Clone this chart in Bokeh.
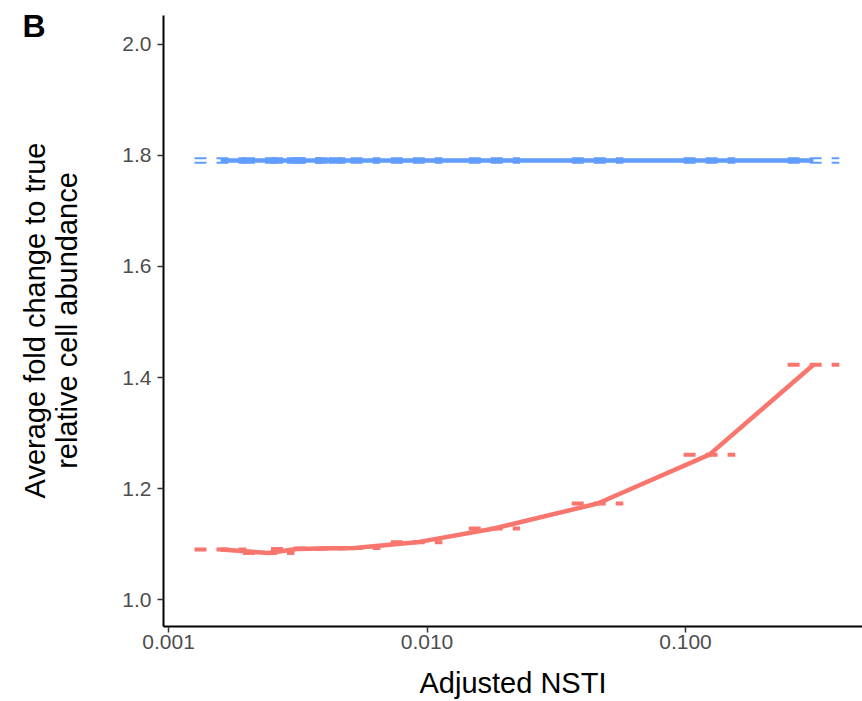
import math
from bokeh.plotting import figure
from bokeh.models import FixedTicker, PrintfTickFormatter, Label, ColumnDataSource
from bokeh.embed import file_html
from bokeh.resources import INLINE

# ---- data ----
bin_nsti = [0.00159, 0.00244, 0.00313, 0.00384, 0.00524, 0.00911, 0.0182, 0.0457, 0.1238, 0.3127]
bin_lo = [0.00126, 0.00194, 0.00249, 0.00305, 0.00416, 0.00724, 0.0145, 0.0363, 0.0983, 0.2484]
bin_hi = [0.00200, 0.00307, 0.00394, 0.00483, 0.00660, 0.01147, 0.0229, 0.0575, 0.1559, 0.3937]
red_fold = [1.090, 1.084, 1.091, 1.092, 1.093, 1.103, 1.128, 1.173, 1.261, 1.423]
blue_fold = [1.791, 1.791, 1.791, 1.791, 1.791, 1.791, 1.791, 1.791, 1.791, 1.791]
blue_upper = [1.795, 1.795, 1.795, 1.795, 1.795, 1.795, 1.795, 1.795, 1.795, 1.795]
blue_lower = [1.787, 1.787, 1.787, 1.787, 1.787, 1.787, 1.787, 1.787, 1.787, 1.787]
x_ticks = [0.001, 0.01, 0.1]
y_ticks = [1.0, 1.2, 1.4, 1.6, 1.8, 2.0]
x_title = "Adjusted NSTI"
y_title = "Average fold change to true\nrelative cell abundance"
panel_tag = "B"

RED = "#F8766D"
BLUE = "#619CFF"
FONT = "Liberation Sans"

src = ColumnDataSource(dict(x=bin_nsti, lo=bin_lo, hi=bin_hi, red=red_fold,
                            blue=blue_fold, bu=blue_upper, bl=blue_lower))

p = figure(width=862, height=701, x_axis_type="log",
           x_range=(0.000956, 0.484), y_range=(0.9514, 2.0522),
           output_backend="svg", toolbar_location=None,
           min_border_left=163, min_border_right=0,
           min_border_top=15, min_border_bottom=74)
p.outline_line_color = None
p.xgrid.visible = False
p.ygrid.visible = False
p.background_fill_color = "white"

# dashed bin segments
p.segment(x0="lo", y0="bu", x1="hi", y1="bu", source=src, line_color=BLUE,
          line_width=2, line_dash="12 10", line_cap="butt")
p.segment(x0="lo", y0="bl", x1="hi", y1="bl", source=src, line_color=BLUE,
          line_width=2, line_dash="12 10", line_cap="butt")
p.segment(x0="lo", y0="red", x1="hi", y1="red", source=src, line_color=RED,
          line_width=4, line_dash="12 10", line_cap="butt")
# solid lines through bin means
p.line(x="x", y="blue", source=src, line_color=BLUE, line_width=4.5)
p.line(x="x", y="red", source=src, line_color=RED, line_width=4.5)

for ax in (p.xaxis[0], p.yaxis[0]):
    ax.axis_line_color = "black"
    ax.axis_line_width = 2
    ax.major_tick_line_color = "#333333"
    ax.major_tick_line_width = 1.5
    ax.major_tick_out = 6
    ax.major_tick_in = 0
    ax.minor_tick_line_color = None
    ax.major_label_text_font = FONT
    ax.major_label_text_font_size = "21px"
    ax.major_label_text_color = "#4D4D4D"
    ax.axis_label_text_font = FONT
    ax.axis_label_text_font_size = "29px"
    ax.axis_label_text_font_style = "normal"
    ax.axis_label_text_color = "black"

p.xaxis.ticker = FixedTicker(ticks=x_ticks)
p.xaxis.formatter = PrintfTickFormatter(format="%.3f")
p.yaxis.ticker = FixedTicker(ticks=y_ticks)
p.yaxis.formatter = PrintfTickFormatter(format="%.1f")
p.xaxis.axis_label = x_title
p.xaxis.major_label_standoff = 2
p.yaxis.major_label_standoff = 6
p.xaxis.axis_label_standoff = 15

# texts in the left side panel (not clipped to the frame)
p.add_layout(Label(x=22, y=25, x_units="canvas", y_units="canvas",
                   text=panel_tag, text_font=FONT, text_font_style="bold",
                   text_font_size="32px", text_color="black",
                   text_baseline="alphabetic", text_align="left"), "left")
p.add_layout(Label(x=50, y=320, x_units="canvas", y_units="canvas",
                   text=y_title, angle=math.pi / 2, text_font=FONT,
                   text_font_size="29px", text_color="black",
                   text_line_height=1.0,
                   text_baseline="middle", text_align="center"), "left")

open("out.html", "w").write(file_html(p, INLINE))
